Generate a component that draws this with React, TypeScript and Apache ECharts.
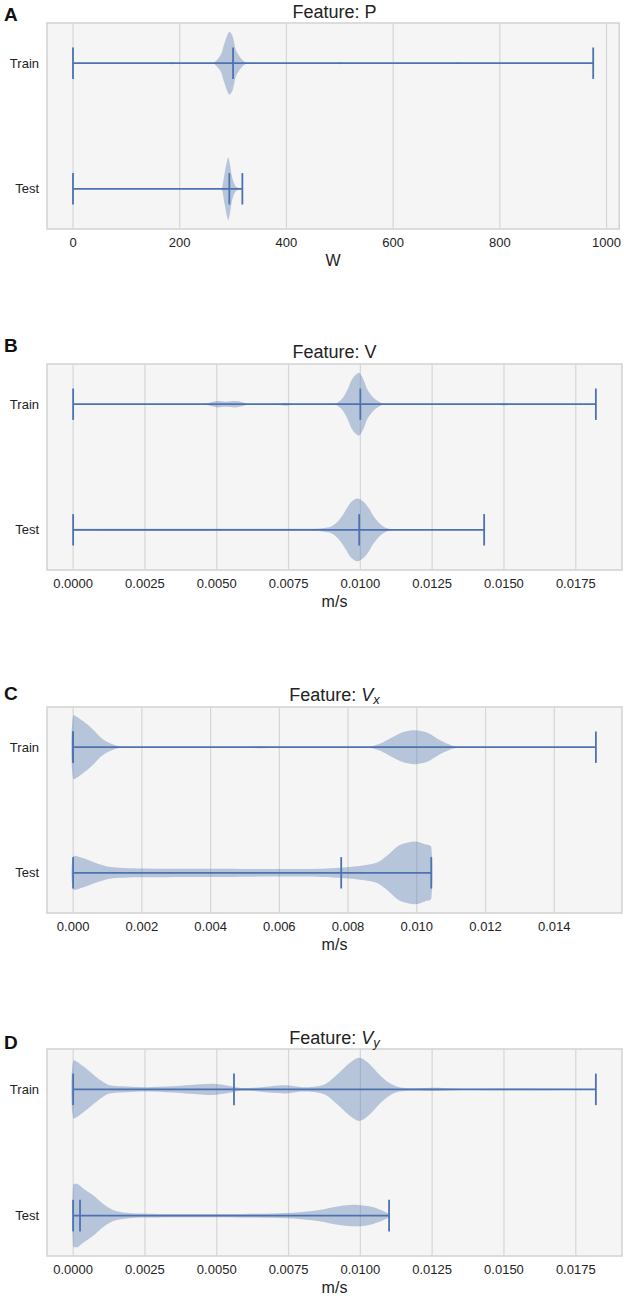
import React, { useEffect, useRef } from 'react';
import * as echarts from 'echarts';

// ---------- data ----------
const categories = ['Train', 'Test'];

// Panel A: Feature P (W)
const pTicks = [0, 200, 400, 600, 800, 1000];
const pTrainStats = [0, 300, 975]; // min, median, max
const pTestStats = [0, 293, 317.4];
const pTrainViolin = [
  [0, 0], [175, 0], [185, 0.03], [195, 0], [258, 0], [264.6, 0.02], [277, 0.27], [283, 0.59],
  [292.7, 1.0], [299, 0.87], [305, 0.43], [310, 0.27], [314.5, 0.16], [322, 0.04], [330, 0], [336, 0],
  [490, 0], [500, 0.03], [510, 0], [710, 0], [720, 0.02], [730, 0], [975, 0],
];
const pTestViolin = [
  [0, 0], [274, 0], [279, 0.02], [283, 0.38], [287.6, 0.8], [291, 1.0], [294, 0.8], [298, 0.38],
  [304, 0.1], [310, 0.03], [317.4, 0],
];

// Panel B: Feature V (m/s)
const vTicks = [0, 0.0025, 0.005, 0.0075, 0.01, 0.0125, 0.015, 0.0175];
const vTrainStats = [0, 0.01, 0.0182];
const vTestStats = [0, 0.00996, 0.01431];
const vTrainViolin = [
  [0, 0], [0.0044, 0], [0.0046, 0.01], [0.005, 0.1], [0.0053, 0.08], [0.0057, 0.1], [0.0061, 0.01],
  [0.0063, 0], [0.0069, 0], [0.0071, 0.01], [0.0074, 0.05], [0.0077, 0.01], [0.0079, 0], [0.009, 0],
  [0.00915, 0.02], [0.00938, 0.19], [0.00955, 0.46], [0.0097, 0.78], [0.00984, 0.94], [0.00996, 1.0],
  [0.01011, 0.78], [0.01025, 0.46], [0.01048, 0.19], [0.01077, 0.02], [0.0109, 0], [0.0145, 0],
  [0.0147, 0.01], [0.015, 0.04], [0.0153, 0.01], [0.0155, 0], [0.0182, 0],
];
const vTestViolin = [
  [0, 0.03], [0.008, 0.03], [0.0085, 0.04], [0.00874, 0.06], [0.00897, 0.1], [0.0092, 0.25],
  [0.00938, 0.46], [0.00952, 0.67], [0.00967, 0.88], [0.0099, 1.0], [0.01013, 0.88], [0.01031, 0.67],
  [0.01044, 0.46], [0.01062, 0.25], [0.01083, 0.09], [0.01106, 0.02], [0.0113, 0.01], [0.01431, 0],
];

// Panel C: Feature Vx (m/s)
const vxTicks = [0, 0.002, 0.004, 0.006, 0.008, 0.01, 0.012, 0.014];
const vxTrainStats = [0, 0, 0.01521];
const vxTestStats = [0, 0.0078, 0.01042];
const vxTrainViolin = [
  [0, 1.0], [0.00028, 0.84], [0.00057, 0.57], [0.00082, 0.29], [0.00106, 0.13], [0.00135, 0.02],
  [0.0016, 0], [0.0048, 0], [0.0055, 0.03], [0.0061, 0], [0.0084, 0], [0.0086, 0.01], [0.0089, 0.1],
  [0.00929, 0.32], [0.00963, 0.49], [0.00995, 0.54], [0.01031, 0.46], [0.01065, 0.24],
  [0.01104, 0.05], [0.01135, 0], [0.0116, 0], [0.01521, 0],
];
const vxTestViolin = [
  [0, 0.52], [0.00028, 0.47], [0.00057, 0.35], [0.00096, 0.21], [0.00135, 0.16], [0.0019, 0.14],
  [0.004, 0.13], [0.006, 0.12], [0.00726, 0.13], [0.00774, 0.16], [0.00833, 0.22], [0.0087, 0.28],
  [0.0089, 0.36], [0.0092, 0.61], [0.00949, 0.88], [0.00995, 1.0], [0.01024, 0.91], [0.01042, 0.83],
];

// Panel D: Feature Vy (m/s)
const vyTicks = [0, 0.0025, 0.005, 0.0075, 0.01, 0.0125, 0.015, 0.0175];
const vyTrainStats = [0, 0.0056, 0.0182];
const vyTestStats = [0, 0.00024, 0.011];
const vyTrainViolin = [
  [0, 0.9], [0.00034, 0.74], [0.00069, 0.48], [0.00098, 0.27], [0.00127, 0.13], [0.00185, 0.09],
  [0.00254, 0.07], [0.00347, 0.1], [0.00405, 0.14], [0.00486, 0.18], [0.00544, 0.11], [0.00579, 0.05],
  [0.00625, 0.05], [0.00695, 0.11], [0.00741, 0.13], [0.00799, 0.07], [0.00845, 0.09], [0.0088, 0.18],
  [0.00926, 0.53], [0.00961, 0.82], [0.00996, 1.0], [0.0103, 0.82], [0.01065, 0.48], [0.011, 0.21],
  [0.01135, 0.07], [0.01181, 0.04], [0.0127, 0.05], [0.0135, 0.02], [0.015, 0.03], [0.0182, 0.01],
];
const vyTestViolin = [
  [0, 0.97], [0.00015, 1.0], [0.00034, 0.87], [0.00069, 0.65], [0.00103, 0.38], [0.00138, 0.18],
  [0.00185, 0.09], [0.00254, 0.06], [0.00463, 0.05], [0.00695, 0.07], [0.00787, 0.11], [0.00857, 0.18],
  [0.00926, 0.3], [0.0099, 0.34], [0.01042, 0.27], [0.011, 0.05],
];

// ---------- layout / styles ----------
const FONT = '"Liberation Sans", Arial, Helvetica, sans-serif';
const BLUE = '#4c72b0';
const FILL = 'rgba(76,114,176,0.36)';
const TEXT = '#222222';
const GRID_LEFT = 47;
const GRID_WIDTH = 575;
const Y_MIN = -0.32;
const Y_MAX = 1.32;
const HALF_W = 0.25;
const CAP = 0.125;

const panels = [
  {
    letter: 'A', title: 'Feature: P', unit: 'W', top: 23, height: 206, letterY: 14, titleY: 12,
    min: -48.75, max: 1023.75, ticks: pTicks, fmt: (v: number) => String(Math.round(v)),
    stats: [pTrainStats, pTestStats], violins: [pTrainViolin, pTestViolin],
  },
  {
    letter: 'B', title: 'Feature: V', unit: 'm/s', top: 364, height: 206, letterY: 345, titleY: 352,
    min: -0.00091, max: 0.01911, ticks: vTicks, fmt: (v: number) => v.toFixed(4),
    stats: [vTrainStats, vTestStats], violins: [vTrainViolin, vTestViolin],
  },
  {
    letter: 'C', title: 'Feature: {v|V}{s|x}', unit: 'm/s', top: 707, height: 206, letterY: 693, titleY: 695,
    min: -0.00076, max: 0.01597, ticks: vxTicks, fmt: (v: number) => v.toFixed(3),
    stats: [vxTrainStats, vxTestStats], violins: [vxTrainViolin, vxTestViolin],
  },
  {
    letter: 'D', title: 'Feature: {v|V}{s|y}', unit: 'm/s', top: 1049, height: 207, letterY: 1042, titleY: 1038,
    min: -0.00091, max: 0.01911, ticks: vyTicks, fmt: (v: number) => v.toFixed(4),
    stats: [vyTrainStats, vyTestStats], violins: [vyTrainViolin, vyTestViolin],
  },
];

function buildOption() {
  const grid: any[] = [];
  const xAxis: any[] = [];
  const yAxis: any[] = [];
  const series: any[] = [];
  const graphic: any[] = [];

  panels.forEach((p, i) => {
    grid.push({
      left: GRID_LEFT, top: p.top, width: GRID_WIDTH, height: p.height,
      show: true, backgroundColor: '#f5f5f5', borderColor: '#d2d2d2', borderWidth: 1.5,
    });
    xAxis.push({
      type: 'value', gridIndex: i, min: p.min, max: p.max,
      axisLine: { show: false }, axisTick: { show: false }, splitLine: { show: false },
      axisLabel: {
        customValues: p.ticks, formatter: (v: number) => p.fmt(v),
        fontSize: 13, color: TEXT, margin: 7, fontFamily: FONT,
      },
      name: p.unit, nameLocation: 'middle', nameGap: 23,
      nameTextStyle: { fontSize: 16, color: TEXT, fontFamily: FONT },
    });
    yAxis.push({
      type: 'value', gridIndex: i, min: Y_MIN, max: Y_MAX, inverse: true,
      axisLine: { show: false }, axisTick: { show: false }, splitLine: { show: false },
      axisLabel: {
        customValues: [0, 1], formatter: (v: number) => categories[Math.round(v)] || '',
        fontSize: 13, color: TEXT, margin: 8, fontFamily: FONT,
      },
    });

    // vertical grid lines
    series.push({
      type: 'custom', xAxisIndex: i, yAxisIndex: i, silent: true, z: 1,
      data: p.ticks.map((t) => [t]),
      renderItem: (params: any, api: any) => {
        const x = api.value(0);
        const a = api.coord([x, Y_MIN]);
        const b = api.coord([x, Y_MAX]);
        return {
          type: 'line',
          shape: { x1: a[0], y1: a[1], x2: b[0], y2: b[1] },
          style: { stroke: '#d6d6d6', lineWidth: 1.2 },
        };
      },
    });

    // violins
    p.violins.forEach((vio, ci) => {
      series.push({
        type: 'custom', xAxisIndex: i, yAxisIndex: i, silent: true, z: 2,
        data: vio,
        renderItem: (params: any, api: any) => {
          if (params.dataIndex !== 0) return null;
          const upper = vio.map(([v, w]) => api.coord([v, ci - w * HALF_W]));
          const lower = vio.map(([v, w]) => api.coord([v, ci + w * HALF_W])).reverse();
          return {
            type: 'polygon',
            shape: { points: upper.concat(lower), smooth: 0.3 },
            style: { fill: FILL, stroke: 'none' },
          };
        },
      });
    });

    // min / median / max lines
    series.push({
      type: 'custom', xAxisIndex: i, yAxisIndex: i, silent: true, z: 3,
      data: p.stats.map((s, ci) => [s[0], s[1], s[2], ci]),
      renderItem: (params: any, api: any) => {
        const mn = api.value(0), md = api.value(1), mx = api.value(2), pos = api.value(3);
        const st = { stroke: BLUE, lineWidth: 1.8 };
        const seg = (x1: number, y1: number, x2: number, y2: number) => {
          const a = api.coord([x1, y1]);
          const b = api.coord([x2, y2]);
          return { type: 'line', shape: { x1: a[0], y1: a[1], x2: b[0], y2: b[1] }, style: st };
        };
        return {
          type: 'group',
          children: [
            seg(mn, pos, mx, pos),
            seg(mn, pos - CAP, mn, pos + CAP),
            seg(md, pos - CAP, md, pos + CAP),
            seg(mx, pos - CAP, mx, pos + CAP),
          ],
        };
      },
    });

    graphic.push({
      type: 'text', x: 4, y: p.letterY,
      style: {
        text: p.letter, fontSize: 19, fontWeight: 'bold', fontFamily: FONT, fill: '#111',
        align: 'left', verticalAlign: 'middle',
      },
    });
    graphic.push({
      type: 'text', x: GRID_LEFT + GRID_WIDTH / 2, y: p.titleY,
      style: {
        text: p.title, fontSize: 18, fontFamily: FONT, fill: TEXT, lineHeight: 22,
        align: 'center', verticalAlign: 'middle',
        rich: {
          v: { fontSize: 18, fontStyle: 'italic', fontFamily: FONT, fill: TEXT, lineHeight: 22 },
          s: { fontSize: 13, fontStyle: 'italic', fontFamily: FONT, fill: TEXT, lineHeight: 12, verticalAlign: 'bottom' },
        },
      },
    });
  });

  return { animation: false, backgroundColor: '#ffffff', grid, xAxis, yAxis, series, graphic };
}

export default function App() {
  const ref = useRef<HTMLDivElement>(null);
  useEffect(() => {
    document.body.style.margin = '0';
    if (!ref.current) return;
    const chart = echarts.init(ref.current, null, { renderer: 'svg' });
    chart.setOption(buildOption() as any);
    return () => chart.dispose();
  }, []);
  return <div ref={ref} style={{ width: 624, height: 1296 }} />;
}
